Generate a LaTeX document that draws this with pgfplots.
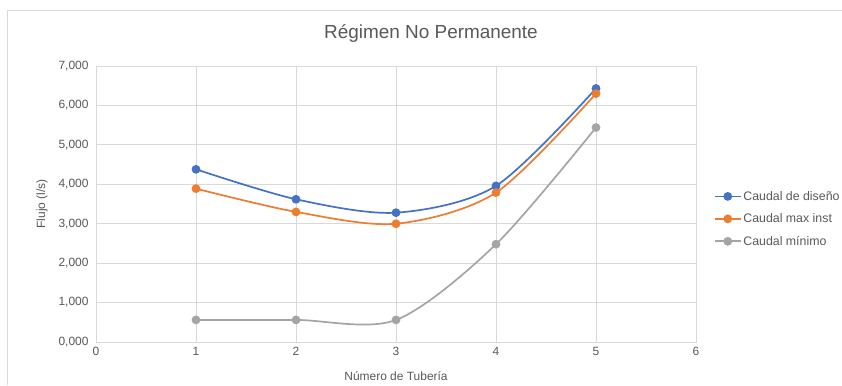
\documentclass[border=0pt]{standalone}
\usepackage{pgfplots}
\pgfplotsset{compat=1.18}
\usepackage{fontspec}
\setmainfont{Liberation Sans}
\definecolor{cblue}{HTML}{4472C4}
\definecolor{corange}{HTML}{ED7D31}
\definecolor{cgray}{HTML}{A5A5A5}
\definecolor{gridc}{HTML}{D9D9D9}
\definecolor{txt}{HTML}{595959}
\begin{document}
\begin{tikzpicture}[x=1bp,y=1bp]
\fill[white] (0,0) rectangle (842,385);
\draw[gridc] (7.5,0) -- (7.5,375) -- (842,375);
\node[txt,font=\fontsize{19}{22}\selectfont] at (431,352) {Régimen No Permanente};
\begin{axis}[
  at={(96bp,43bp)}, anchor=south west,
  scale only axis, width=600bp, height=276bp,
  xmin=0, xmax=6, ymin=0, ymax=7,
  xtick={0,1,2,3,4,5,6}, ytick={0,1,2,3,4,5,6,7},
  grid=major, major grid style={gridc, line width=0.8bp},
  axis line style={gridc, line width=0.8bp},
  x axis line style={color=black!25},
  tick style={draw=none},
  ticklabel style={txt, font=\fontsize{12}{14}\selectfont},
  /pgf/number format/assume math mode=true,
  yticklabel={\pgfmathprintnumber[fixed,fixed zerofill,precision=3,use comma]{\tick}},
  xticklabel={\pgfmathprintnumber[fixed,precision=0]{\tick}},
  xlabel={Número de Tubería}, ylabel={Flujo (l/s)},
  label style={txt, font=\fontsize{12}{14}\selectfont},
  xlabel style={at={(axis description cs:0.5,0)}, anchor=center, yshift=-34bp},
  ylabel style={at={(axis description cs:-0.09,0.5)}, anchor=center, rotate=0},
  yticklabel style={xshift=-4bp},
  xticklabel style={yshift=-2bp},
  legend style={at={(axis description cs:1.025,0.446)}, anchor=west, draw=none, fill=none,
    font=\fontsize{12.4}{14}\selectfont, text=txt, row sep=8bp,
    legend cell align=left},
  legend image code/.code={
    \draw[#1, mark=none] (0cm,0cm) -- (0.9cm,0cm);
    \draw[#1, only marks] plot coordinates {(0.45cm,0cm)};
  },
  every axis plot/.append style={line width=1.7bp, smooth, tension=0.5, mark=*, mark size=3.5bp, mark options={solid}},
]
\addplot[cblue, mark options={fill=cblue, draw=cblue}] coordinates {(1,4.38) (2,3.62) (3,3.28) (4,3.96) (5,6.43)};
\addlegendentry{Caudal de diseño}
\addplot[corange, mark options={fill=corange, draw=corange}] coordinates {(1,3.89) (2,3.30) (3,3.00) (4,3.79) (5,6.30)};
\addlegendentry{Caudal max inst}
\addplot[cgray, mark options={fill=cgray, draw=cgray}] coordinates {(1,0.56) (2,0.56) (3,0.56) (4,2.48) (5,5.44)};
\addlegendentry{Caudal mínimo}
\end{axis}
\pgfresetboundingbox
\path (0,0) rectangle (842,385);
\end{tikzpicture}
\end{document}
